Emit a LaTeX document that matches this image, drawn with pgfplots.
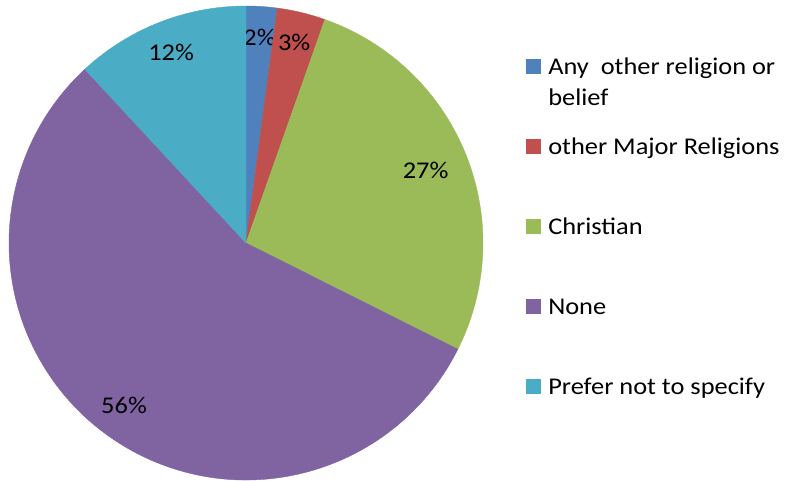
\documentclass[border=0pt]{standalone}
\usepackage{pgfplots}
\pgfplotsset{compat=1.18}
\usepackage{fontspec}
\setmainfont{Carlito}[FakeStretch=1.1]
\definecolor{c1}{HTML}{4F81BD}
\definecolor{c2}{HTML}{C0504D}
\definecolor{c3}{HTML}{9BBB59}
\definecolor{c4}{HTML}{8064A2}
\definecolor{c5}{HTML}{4BACC6}
\newcommand\lbl{\fontsize{18pt}{21pt}\selectfont}
\begin{document}
\begin{tikzpicture}
\useasboundingbox (0,0) rectangle (588.75pt,-360.75pt);
\begin{axis}[
  at={(184.5pt,-182.25pt)}, anchor=center,
  hide axis, clip=false,
  x=177.75pt, y=177.75pt,
  xmin=-1, xmax=1, ymin=-1, ymax=1,
  legend cell align=left,
  legend image code/.code={\fill[#1] (0pt,-5.625pt) rectangle (11.25pt,5.625pt);},
  legend style={at={(axis description cs:1.0907,0.8979)}, anchor=north west,
    draw=none, fill=none, inner sep=0pt, row sep=41.8pt, column sep=5.25pt,
    font=\fontsize{18pt}{23.25pt}\selectfont,
    nodes={inner sep=0pt, text height=14.7pt, text depth=3.5pt}},
]
\def\cum{0}
\foreach \v/\c/\r in {2.1/c1/0.87, 3.3/c2/0.872, 27.0/c3/0.817, 55.7/c4/0.857, 11.9/c5/0.865} {
  \pgfmathsetmacro\a{90-3.6*\cum}
  \pgfmathsetmacro\b{90-3.6*(\cum+\v)}
  \pgfmathsetmacro\m{(\a+\b)/2}
  \pgfmathsetmacro\xa{cos(\a)}
  \pgfmathsetmacro\ya{sin(\a)}
  \pgfmathsetmacro\xl{\r*cos(\m)}
  \pgfmathsetmacro\yl{\r*sin(\m)}
  \pgfmathtruncatemacro\p{round(\v)}
  \edef\temp{\noexpand\fill[\c, draw=\c, line width=0.3pt] (axis cs:0,0) -- (axis cs:\xa,\ya) arc[start angle=\a, end angle=\b, radius=177.75pt] -- cycle;
    \noexpand\node[font=\noexpand\lbl, inner sep=0pt] at (axis cs:\xl,\yl) {\p\noexpand\%};}
  \temp
  \pgfmathsetmacro\nc{\cum+\v}
  \xdef\cum{\nc}
}
\addlegendimage{draw=none, fill=c1}
\addlegendentry{\begin{tabular}[t]{@{}l@{}}Any\ \ other religion or\\belief\end{tabular}}
\addlegendimage{draw=none, fill=c2}
\addlegendentry{other Major Religions}
\addlegendimage{draw=none, fill=c3}
\addlegendentry{Christian}
\addlegendimage{draw=none, fill=c4}
\addlegendentry{None}
\addlegendimage{draw=none, fill=c5}
\addlegendentry{Prefer not to specify}
\end{axis}
\end{tikzpicture}
\end{document}
